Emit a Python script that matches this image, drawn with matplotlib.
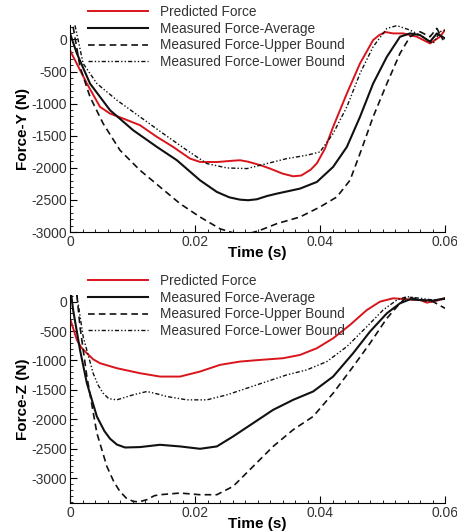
import matplotlib
matplotlib.use('Agg')
import matplotlib.pyplot as plt
from matplotlib.ticker import MultipleLocator, FixedLocator
import numpy as np

plt.rcParams['font.family'] = ['Liberation Sans', 'DejaVu Sans']
plt.rcParams['axes.unicode_minus'] = False

labels = ['Predicted Force', 'Measured Force-Average',
          'Measured Force-Upper Bound', 'Measured Force-Lower Bound']

# Force-Y panel
y_pred_t = [0, 0.0027, 0.0048, 0.0064, 0.0085, 0.0112, 0.0139, 0.0165, 0.0192, 0.0208, 0.0235,
            0.026, 0.0272, 0.0285, 0.0305, 0.032, 0.034, 0.0357, 0.037, 0.0385, 0.0395, 0.0408,
            0.0421, 0.0443, 0.0464, 0.0485, 0.0495, 0.0505,
            0.0517, 0.0533, 0.0555, 0.0576, 0.0592, 0.06]
y_pred_f = [-170, -687, -1050, -1155, -1232, -1336, -1518, -1674, -1856, -1908, -1910,
            -1890, -1882, -1905, -1960, -2012, -2090, -2132, -2120, -2030, -1930, -1700,
            -1362, -842, -374, -10, 70, 115,
            94, 94, 42, -62, 42, 146]
y_avg_t = [0, 0.0011, 0.0032, 0.0064, 0.0101, 0.0139, 0.0171, 0.0208, 0.0235, 0.0255, 0.0272,
           0.0285, 0.0299, 0.0315, 0.0331, 0.0368, 0.0395, 0.0421, 0.0443, 0.0464, 0.0485,
           0.0507, 0.0528, 0.0544, 0.056, 0.0576, 0.0587, 0.06]
y_avg_f = [94, -218, -687, -1102, -1414, -1674, -1882, -2194, -2376, -2460, -2496,
           -2505, -2490, -2440, -2402, -2324, -2220, -1986, -1674, -1206, -687,
           -270, 42, 94, 68, -36, 94, 16]
y_up_t = [0.0005, 0.0016, 0.0032, 0.0053, 0.008, 0.0112, 0.0144, 0.0176, 0.0208, 0.024, 0.026,
          0.0275, 0.029, 0.0305, 0.0331, 0.0368, 0.04, 0.0427, 0.0448, 0.0464, 0.0485, 0.0507,
          0.0528, 0.0544, 0.056, 0.0576, 0.0587, 0.0597]
y_up_f = [198, -426, -894, -1310, -1726, -2038, -2298, -2558, -2766, -2950, -3010,
          -3030, -3015, -2970, -2870, -2766, -2610, -2454, -2194, -1778, -1206, -687,
          -218, 42, 120, 42, 172, -10]
y_low_t = [0.0008, 0.0021, 0.0043, 0.0075, 0.0112, 0.0149, 0.0187, 0.0219, 0.0251, 0.0283, 0.0315,
           0.0347, 0.0379, 0.04, 0.0421, 0.0443, 0.0464, 0.0485, 0.0507, 0.0523, 0.0544,
           0.0565, 0.0581, 0.0592, 0.06]
y_low_f = [220, -374, -687, -946, -1206, -1466, -1726, -1934, -2002, -2012, -1934,
           -1856, -1804, -1752, -1466, -1050, -530, -114, 172, 215, 146,
           42, -62, 120, 146]

# Force-Z panel
z_pred_t = [0, 0.0011, 0.0018, 0.0027, 0.0037, 0.0048, 0.0075, 0.0112, 0.0144, 0.0176, 0.0208,
            0.024, 0.0272, 0.0304, 0.0341, 0.0368, 0.0395, 0.0421, 0.0448, 0.0475, 0.0496,
            0.0517, 0.0539, 0.056, 0.0571, 0.0587, 0.06]
z_pred_f = [-283, -651, -780, -877, -980, -1047, -1132, -1217, -1274, -1274, -1189,
            -1075, -1019, -991, -962, -906, -792, -623, -396, -142, 0,
            57, 40, 28, -17, 17, 57]
z_avg_t = [0.0002, 0.0005, 0.0016, 0.0027, 0.0043, 0.0055, 0.0064, 0.0075, 0.0088, 0.0112, 0.0144,
           0.0176, 0.0208, 0.0235, 0.0261, 0.0293, 0.0325, 0.0357, 0.0389, 0.0421, 0.0453,
           0.048, 0.0507, 0.0528, 0.0544, 0.056, 0.0581, 0.06]
z_avg_f = [113, -142, -821, -1387, -1953, -2200, -2330, -2430, -2480, -2473, -2434,
           -2462, -2502, -2462, -2292, -2066, -1840, -1670, -1528, -1274, -877,
           -509, -198, -28, 40, 28, 17, 57]
z_up_t = [0.0011, 0.0016, 0.0027, 0.0043, 0.0059, 0.007, 0.008, 0.009, 0.0101, 0.011, 0.0123,
          0.0135, 0.0144, 0.0176, 0.0208, 0.0235, 0.0261, 0.0293, 0.0325, 0.0357, 0.0389,
          0.0421, 0.0453, 0.048, 0.0507, 0.0528, 0.0539, 0.056, 0.0581, 0.06]
z_up_f = [113, -425, -1274, -2236, -2802, -3060, -3230, -3340, -3396, -3405, -3368,
          -3300, -3283, -3255, -3283, -3283, -3141, -2802, -2462, -2179, -1953,
          -1557, -1104, -708, -283, -28, 85, 28, 0, -113]
z_low_t = [0.0011, 0.0021, 0.0037, 0.0045, 0.0053, 0.0062, 0.0075, 0.009, 0.0101, 0.0123, 0.014,
           0.0155, 0.0187, 0.0219, 0.0251, 0.0283, 0.0315, 0.0347, 0.0379, 0.0411, 0.0443,
           0.0475, 0.0501, 0.0523, 0.0539, 0.056, 0.0581, 0.06]
z_low_f = [113, -594, -1217, -1420, -1557, -1650, -1670, -1620, -1585, -1528, -1570,
           -1613, -1670, -1670, -1585, -1472, -1358, -1245, -1160, -1019, -764,
           -425, -142, 28, 85, 57, 28, 40]

W, H = 457, 531
fig = plt.figure(figsize=(W / 100, H / 100), dpi=100)

panels = [
    dict(rect=[70, 25, 445, 232], ylim=(-3000, 225), ylabel='Force-Y (N)', legtop=5,
         data=[(y_pred_t, y_pred_f), (y_avg_t, y_avg_f), (y_up_t, y_up_f), (y_low_t, y_low_f)]),
    dict(rect=[70, 295, 445, 503], ylim=(-3424, 113), ylabel='Force-Z (N)', legtop=274,
         data=[(z_pred_t, z_pred_f), (z_avg_t, z_avg_f), (z_up_t, z_up_f), (z_low_t, z_low_f)]),
]

styles = [
    dict(color='#d9141b', lw=1.4, ls='-'),
    dict(color='#111111', lw=1.5, ls='-'),
    dict(color='#111111', lw=1.2, ls=(0, (4, 2.5))),
    dict(color='#111111', lw=1.0, ls=(0, (3, 1.5, 1, 1.5, 1, 1.5))),
]

for p in panels:
    l, t, r, b = p['rect']
    ax = fig.add_axes([l / W, 1 - b / H, (r - l) / W, (b - t) / H])
    handles = []
    for (tt, ff), st, lab in zip(p['data'], styles, labels):
        h, = ax.plot(tt, ff, label=lab, **st)
        handles.append(h)
    ax.set_xlim(0, 0.06)
    ax.set_ylim(*p['ylim'])
    ax.spines['top'].set_visible(False)
    ax.spines['right'].set_visible(False)
    ax.xaxis.set_major_locator(FixedLocator([0, 0.02, 0.04, 0.06]))
    ax.set_xticklabels(['0', '0.02', '0.04', '0.06'])
    ax.xaxis.set_minor_locator(MultipleLocator(0.002))
    ax.yaxis.set_major_locator(MultipleLocator(500))
    ax.yaxis.set_minor_locator(MultipleLocator(100))
    ax.tick_params(which='both', direction='in', labelsize=10, labelcolor='#333333',
                   top=False, right=False)
    ax.tick_params(which='major', length=5, pad=2)
    ax.tick_params(which='minor', length=2.5)
    ax.set_xlabel('Time (s)', fontsize=11, fontweight='bold', labelpad=-2)
    ax.set_ylabel(p['ylabel'], fontsize=11, fontweight='bold', labelpad=1)
    fig.legend(handles=handles, loc='upper left', frameon=False,
               bbox_to_anchor=(88 / W, 1 - p['legtop'] / H),
               borderpad=0, borderaxespad=0, handlelength=4.4, handletextpad=0.9,
               labelspacing=0.2, fontsize=9.8, labelcolor='#333333')

fig.savefig('out.png', dpi=100)
